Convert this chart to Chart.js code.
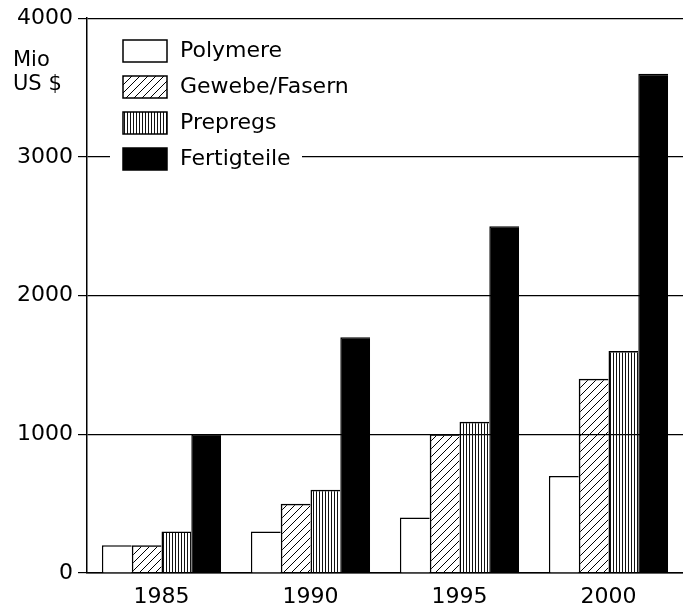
<!DOCTYPE html>
<html>
<head>
<meta charset="utf-8">
<title>Mio US $</title>
<script src="https://cdn.jsdelivr.net/npm/chart.js@4.4.0/dist/chart.umd.min.js"></script>
<style>
    html, body { margin: 0; padding: 0; background: #fff; }
    #chart { display: block; }
</style>
</head>
<body>
<canvas id="chart" width="683" height="605"></canvas>
<script>
var years = ['1985', '1990', '1995', '2000'];
var seriesNames = ['Polymere', 'Gewebe/Fasern', 'Prepregs', 'Fertigteile'];
var polymere = [200, 300, 400, 700];
var gewebe = [200, 500, 1000, 1400];
var prepregs = [300, 600, 1090, 1600];
var fertigteile = [1000, 1700, 2500, 3600];
var yTicks = [0, 1000, 2000, 3000, 4000];
var unitLines = ['Mio', 'US $'];

var FONT = '"DejaVu Sans", sans-serif';

(function () {
    var canvas = document.getElementById('chart');
    var ctx = canvas.getContext('2d');

    // diagonal hatch "/" for Gewebe/Fasern
    function hatchPattern() {
        var c = document.createElement('canvas');
        c.width = 8; c.height = 8;
        var g = c.getContext('2d');
        g.strokeStyle = '#000';
        g.lineWidth = 1;
        g.beginPath();
        g.moveTo(0, 8); g.lineTo(8, 0);
        g.moveTo(-2, 2); g.lineTo(2, -2);
        g.moveTo(6, 10); g.lineTo(10, 6);
        g.stroke();
        return ctx.createPattern(c, 'repeat');
    }

    // thin vertical lines for Prepregs
    function stripePattern() {
        var c = document.createElement('canvas');
        c.width = 3; c.height = 4;
        var g = c.getContext('2d');
        g.fillStyle = '#111';
        g.fillRect(1, 0, 1, 4);
        return ctx.createPattern(c, 'repeat');
    }

    var fills = ['#ffffff', hatchPattern(), stripePattern(), '#000000'];
    var values = [polymere, gewebe, prepregs, fertigteile];

    // neighbouring bars share one outline, so only left and top are stroked
    var datasets = seriesNames.map(function (name, i) {
        return {
            label: name,
            data: values[i],
            backgroundColor: fills[i],
            borderColor: '#000',
            borderWidth: { top: 1.5, left: 1.5, right: 0, bottom: 0 },
            borderSkipped: false,
            categoryPercentage: 0.8,
            barPercentage: 1.0,
        };
    });

    // unit text top-left and legend inside the plot
    var decorPlugin = {
        id: 'decor',
        afterDraw: function (chart) {
            var c = chart.ctx;
            c.save();
            c.fillStyle = '#000';
            c.font = '21px ' + FONT;
            c.textAlign = 'left';
            c.textBaseline = 'middle';
            unitLines.forEach(function (t, i) {
                c.fillText(t, 13, 61 + i * 24);
            });

            c.fillStyle = '#fff';
            c.fillRect(110, 32, 192, 146);

            c.font = '22px ' + FONT;
            chart.data.datasets.forEach(function (ds, i) {
                var cy = 51 + i * 36;
                c.fillStyle = ds.backgroundColor;
                c.fillRect(123, cy - 11, 44, 22);
                c.strokeStyle = '#000';
                c.lineWidth = 1.5;
                c.strokeRect(123, cy - 11, 44, 22);
                c.fillStyle = '#000';
                c.fillText(ds.label, 180, cy);
            });
            c.restore();
        },
    };

    new Chart(canvas, {
        type: 'bar',
        data: { labels: years, datasets: datasets },
        plugins: [decorPlugin],
        options: {
            responsive: false,
            animation: false,
            layout: { padding: { top: 18, right: 0, bottom: 0, left: 0 } },
            plugins: {
                legend: { display: false },
                tooltip: { enabled: false },
            },
            scales: {
                x: {
                    grid: { display: false },
                    border: { display: true, color: '#000', width: 1.5 },
                    ticks: { color: '#000', font: { family: FONT, size: 22 }, padding: 3 },
                    afterFit: function (s) { s.height = 32; },
                },
                y: {
                    min: 0,
                    max: 4000,
                    afterBuildTicks: function (s) {
                        s.ticks = yTicks.map(function (v) { return { value: v }; });
                    },
                    grid: { color: '#000', lineWidth: 1.2, tickLength: 9 },
                    border: { display: true, color: '#000', width: 1.5 },
                    ticks: {
                        color: '#000',
                        font: { family: FONT, size: 22 },
                        padding: 5,
                        callback: function (v) { return String(v); },
                    },
                    afterFit: function (s) { s.width = 87; },
                },
            },
        },
    });
})();
</script>
</body>
</html>
